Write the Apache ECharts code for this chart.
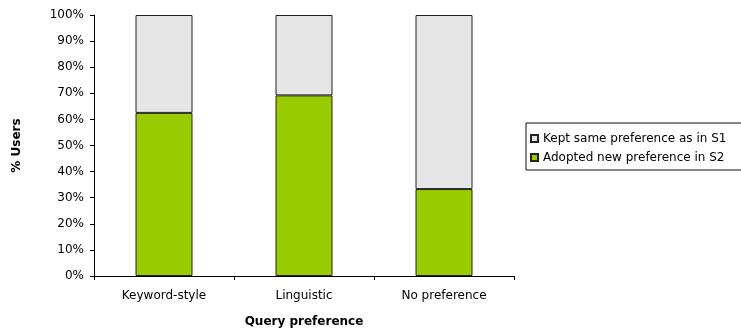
<!DOCTYPE html>
<html>
<head>
<meta charset="utf-8">
<script src="https://cdn.jsdelivr.net/npm/echarts@6/dist/echarts.min.js"></script>
<style>
  html, body { margin: 0; padding: 0; background: #ffffff; }
  #chart { width: 741px; height: 333px; }
</style>
</head>
<body>
<div id="chart"></div>
<script>
// Query preference categories and share of users (%) per group
const categories = ['Keyword-style', 'Linguistic', 'No preference'];
const adoptedNew = [62.5, 69.2, 33.3];
const keptSame = [37.5, 30.8, 66.7];
const seriesNames = ['Kept same preference as in S1', 'Adopted new preference in S2'];

const FONT = 'DejaVu Sans';
const chart = echarts.init(document.getElementById('chart'), null, { renderer: 'canvas' });

chart.setOption({
  animation: false,
  backgroundColor: '#ffffff',
  textStyle: { fontFamily: FONT, color: '#000' },
  grid: { left: 94, right: 227, top: 15, bottom: 56 },
  legend: {
    orient: 'vertical',
    left: 526,
    top: 123,
    data: seriesNames,
    icon: 'rect',
    itemWidth: 7,
    itemHeight: 7,
    itemGap: 6,
    padding: [9, 24, 6, 4],
    borderColor: '#111',
    borderWidth: 1,
    textStyle: { fontFamily: FONT, fontSize: 12, color: '#000', lineHeight: 13 }
  },
  xAxis: {
    type: 'category',
    data: categories,
    name: 'Query preference',
    nameLocation: 'middle',
    nameGap: 40,
    nameTextStyle: { fontFamily: FONT, fontSize: 12, fontWeight: 'bold', color: '#000' },
    axisLine: { lineStyle: { color: '#000', width: 1 } },
    axisTick: { show: true, length: 4, lineStyle: { color: '#000' } },
    axisLabel: { margin: 14, fontFamily: FONT, fontSize: 12, color: '#000' }
  },
  yAxis: {
    type: 'value',
    min: 0,
    max: 100,
    interval: 10,
    name: '% Users',
    nameLocation: 'middle',
    nameGap: 71,
    nameRotate: 90,
    nameTextStyle: { fontFamily: FONT, fontSize: 12, fontWeight: 'bold', color: '#000' },
    axisLine: { show: true, lineStyle: { color: '#000', width: 1 } },
    axisTick: { show: true, length: 4, lineStyle: { color: '#000' } },
    splitLine: { show: false },
    axisLabel: { margin: 10, fontFamily: FONT, fontSize: 12, color: '#000', formatter: '{value}%' }
  },
  series: [
    {
      name: seriesNames[1],
      type: 'bar',
      stack: 'users',
      barWidth: 57,
      data: adoptedNew,
      itemStyle: { color: '#99cc00', borderColor: '#222', borderWidth: 1 }
    },
    {
      name: seriesNames[0],
      type: 'bar',
      stack: 'users',
      barWidth: 57,
      data: keptSame,
      itemStyle: { color: '#e6e6e6', borderColor: '#222', borderWidth: 1 }
    }
  ]
});
</script>
</body>
</html>
